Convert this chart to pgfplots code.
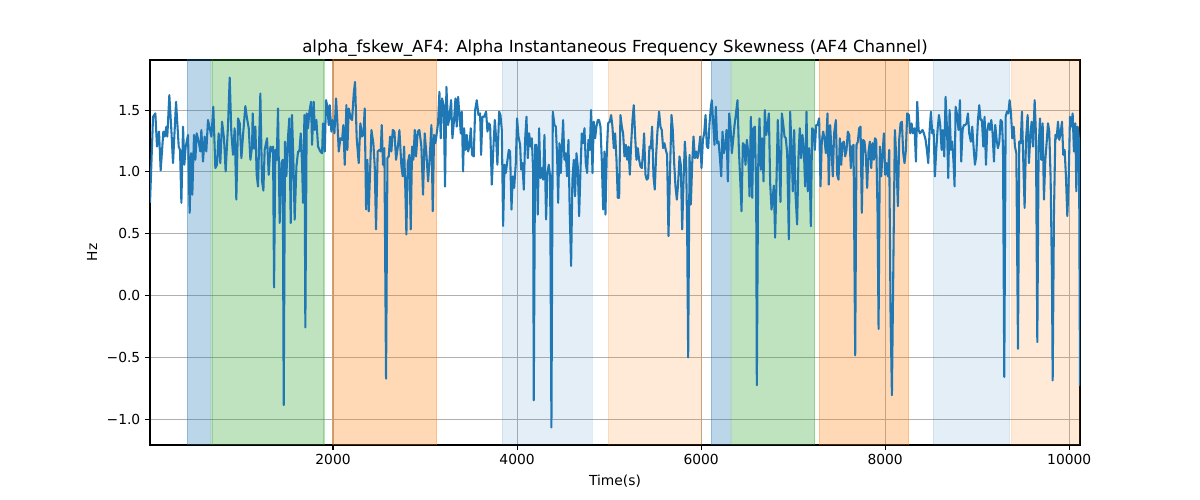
\documentclass[border=0pt]{standalone}
\usepackage{fontspec}
\setmainfont{DejaVu Sans}
\usepackage{pgfplots}
\pgfplotsset{compat=1.18}
\definecolor{tabblue}{RGB}{31,119,180}
\definecolor{tabgreen}{RGB}{44,160,44}
\definecolor{taborange}{RGB}{255,127,14}
\definecolor{gridgray}{RGB}{176,176,176}
\begin{document}
\begin{tikzpicture}
\path[use as bounding box] (-108.41pt,-39.75pt) rectangle (758.83pt,321.6pt);
\begin{axis}[
 scale only axis, width=672.11pt, height=278.24pt,
 at={(0pt,0pt)}, anchor=south west,
 xmin=11, xmax=10117, ymin=-1.208, ymax=1.905,
 scaled x ticks=false, scaled y ticks=false,
 xtick={2000,4000,6000,8000,10000}, xticklabels={2000,4000,6000,8000,10000},
 ytick={-1,-0.5,0,0.5,1,1.5}, yticklabels={−1.0,−0.5,0.0,0.5,1.0,1.5},
 grid=major, major grid style={gridgray, line width=0.8pt},
 tick align=outside, major tick length=3.5pt, tick style={black, line width=0.8pt},
 tick pos=left,
 axis line style={line width=0.8pt},
 ticklabel style={font=\fontsize{10}{12}\selectfont},
 xlabel={Time(s)}, ylabel={Hz}, label style={font=\fontsize{10}{12}\selectfont},
 title={alpha\_fskew\_AF4: Alpha Instantaneous Frequency Skewness (AF4 Channel)},
 title style={font=\fontsize{12}{14}\selectfont, yshift=-7pt},
 clip=true,
]
% shaded spans
\addplot[draw=tabblue, fill=tabblue, opacity=0.3, line width=0.8pt] coordinates {(415,-5)(668,-5)(668,5)(415,5)} \closedcycle;
\addplot[draw=tabgreen, fill=tabgreen, opacity=0.3, line width=0.8pt] coordinates {(685,-5)(1902,-5)(1902,5)(685,5)} \closedcycle;
\addplot[draw=taborange, fill=taborange, opacity=0.3, line width=0.8pt] coordinates {(2000,-5)(3127,-5)(3127,5)(2000,5)} \closedcycle;
\addplot[draw=tabblue, fill=tabblue, opacity=0.12, line width=0.8pt] coordinates {(3837,-5)(4815,-5)(4815,5)(3837,5)} \closedcycle;
\addplot[draw=taborange, fill=taborange, opacity=0.16, line width=0.8pt] coordinates {(4990,-5)(6008,-5)(6008,5)(4990,5)} \closedcycle;
\addplot[draw=tabblue, fill=tabblue, opacity=0.3, line width=0.8pt] coordinates {(6109,-5)(6316,-5)(6316,5)(6109,5)} \closedcycle;
\addplot[draw=tabgreen, fill=tabgreen, opacity=0.3, line width=0.8pt] coordinates {(6330,-5)(7235,-5)(7235,5)(6330,5)} \closedcycle;
\addplot[draw=taborange, fill=taborange, opacity=0.3, line width=0.8pt] coordinates {(7282,-5)(8257,-5)(8257,5)(7282,5)} \closedcycle;
\addplot[draw=tabblue, fill=tabblue, opacity=0.12, line width=0.8pt] coordinates {(8522,-5)(9352,-5)(9352,5)(8522,5)} \closedcycle;
\addplot[draw=taborange, fill=taborange, opacity=0.16, line width=0.8pt] coordinates {(9370,-5)(10130,-5)(10130,5)(9370,5)} \closedcycle;
% signal
\addplot[tabblue, line width=1.5pt, line join=round, mark=none] coordinates {
(11,0.75)(44,1.446)(69,1.473)(87,1.205)(109,1.326)(127,1.012)(156,1.326)(171,1.286)(189,1.366)(199,1.286)
(221,1.621)(243,1.339)(261,1.071)(294,1.567)(323,1.205)(337,1.178)(352,0.75)(370,1.366)(384,1.058)(399,1.205)
(424,1.299)(442,0.669)(457,1.151)(471,0.816)(489,1.299)(504,1.098)(518,1.312)(540,1.245)(558,1.165)(569,1.339)
(587,1.084)(605,1.286)(623,1.165)(641,1.420)(663,1.339)(678,1.286)(699,1.527)(721,1.031)(739,1.058)(757,1.312)
(775,1.071)(794,1.406)(815,1.272)(833,1.004)(859,1.379)(877,1.763)(895,1.312)(913,1.138)(931,1.353)(949,0.776)
(968,1.433)(986,1.393)(1004,1.111)(1022,1.299)(1047,1.532)(1065,1.433)(1084,1.353)(1102,1.098)(1120,1.205)
(1127,1.473)(1141,1.189)(1156,1.366)(1170,0.977)(1185,0.882)(1210,1.634)(1228,0.929)(1243,0.849)(1257,1.178)
(1283,1.272)(1301,0.977)(1319,1.205)(1337,1.165)(1348,1.205)(1359,0.066)(1373,1.178)(1388,1.098)(1402,1.513)
(1420,0.587)(1439,1.071)(1453,1.098)(1464,-0.886)(1478,1.245)(1493,0.966)(1511,1.286)(1525,1.433)(1540,0.587)
(1554,1.460)(1569,1.098)(1583,0.614)(1602,1.044)(1620,1.165)(1634,1.165)(1649,1.312)(1663,1.071)(1674,0.750)
(1689,1.460)(1699,-0.257)(1714,1.473)(1728,1.353)(1743,1.487)(1761,1.567)(1772,1.219)(1790,1.567)(1801,1.339)
(1819,1.420)(1837,1.205)(1862,1.165)(1881,1.151)(1891,1.393)(1910,1.165)(1924,1.581)(1938,1.527)(1953,1.379)
(1964,1.540)(1982,1.326)(1996,1.420)(2015,1.312)(2033,1.594)(2047,1.406)(2062,1.165)(2080,1.272)(2098,1.259)
(2112,1.379)(2127,1.058)(2145,1.540)(2156,1.178)(2170,1.513)(2192,1.433)(2207,1.420)(2225,1.634)(2239,1.728)
(2257,1.272)(2279,1.071)
(2297,1.393)(2315,1.286)(2330,1.299)(2344,1.513)(2359,0.696)(2373,1.098)(2388,0.682)(2402,0.991)(2417,1.339)
(2438,1.232)(2453,1.044)(2467,0.535)(2485,1.165)(2504,1.178)(2518,1.165)(2529,1.379)(2543,1.058)(2558,1.192)
(2576,-0.672)(2591,1.111)(2605,1.125)(2620,1.286)(2634,1.165)(2649,1.339)(2667,1.326)(2685,1.098)(2707,1.219)
(2721,1.339)(2743,1.044)(2757,0.964)(2772,1.205)(2786,0.843)(2797,0.494)(2812,1.071)(2830,1.138)(2844,0.535)
(2859,1.205)(2873,1.098)(2888,1.339)(2902,1.125)(2920,1.326)(2938,1.339)(2960,1.205)(2978,0.816)(2996,1.312)
(3014,1.151)(3033,0.923)(3051,1.125)(3069,1.379)(3083,0.682)(3098,1.299)(3112,1.232)(3127,1.312)(3141,1.393)
(3156,1.648)(3170,1.272)(3185,1.594)(3203,1.540)(3217,0.882)(3232,1.688)(3250,1.379)(3264,1.433)(3283,1.581)
(3297,1.272)(3315,1.420)(3330,1.594)(3344,1.366)(3359,1.607)
(3388,1.312)(3399,1.487)(3413,1.004)(3424,1.353)(3439,1.178)(3453,1.299)(3468,1.165)(3482,1.205)(3497,1.353)
(3511,1.138)(3529,1.125)(3544,1.500)(3562,1.580)(3580,1.460)(3598,1.473)(3609,1.138)(3623,1.446)(3642,1.446)
(3663,1.487)(3678,1.326)(3692,1.393)(3707,1.379)(3725,0.897)(3743,1.205)(3758,1.420)(3772,1.272)(3786,1.058)
(3805,1.487)(3819,1.460)(3834,1.339)(3848,0.563)(3863,1.058)(3877,0.991)(3891,1.071)(3910,1.178)(3924,1.165)
(3939,0.696)(3953,0.964)(3968,0.870)(3986,1.071)(4000,1.433)(4015,1.286)(4033,1.219)(4044,1.018)(4058,1.071)
(4073,0.856)(4087,1.259)(4102,1.446)(4116,1.111)(4131,1.312)(4145,1.205)(4160,1.272)(4174,1.018)(4181,-0.847)
(4196,1.219)(4210,1.219)(4225,0.655)(4239,1.353)(4254,0.950)(4268,1.031)(4283,0.937)(4297,1.299)(4315,0.615)
(4330,0.991)(4344,1.058)(4359,0.964)(4373,-1.066)(4388,1.487)(4406,1.379)(4421,1.366)(4435,1.125)(4446,0.750)
(4460,1.232)(4475,0.991)(4489,1.232)
(4500,1.420)(4514,1.098)(4529,1.151)(4543,0.964)(4558,1.259)(4572,0.669)(4587,0.24)(4601,0.937)(4616,1.098)
(4630,0.803)(4645,1.151)(4659,1.044)(4674,0.642)(4688,0.991)(4703,1.312)(4717,1.232)(4732,1.353)(4746,1.071)
(4761,0.991)(4775,1.259)(4790,1.178)(4804,1.500)(4819,0.991)(4833,1.406)(4848,1.272)(4862,1.366)(4877,1.420)
(4891,1.420)(4906,1.366)(4920,1.098)(4935,0.696)(4949,1.165)(4960,0.655)(4975,1.165)(4989,1.393)(5007,1.406)
(5022,1.460)(5036,1.366)(5051,1.192)(5065,1.312)(5080,1.098)(5094,0.790)(5109,0.790)(5123,1.460)(5138,1.366)
(5152,1.312)(5167,1.125)(5181,1.219)(5196,1.098)(5210,1.205)(5225,0.977)(5239,1.219)(5254,1.420)(5268,1.540)
(5283,1.286)(5297,1.098)(5312,1.192)(5326,1.098)(5341,1.044)(5355,1.031)(5370,1.165)(5380,1.312)(5395,0.977)
(5409,0.937)(5424,0.950)(5438,1.205)(5453,1.192)(5467,1.366)(5482,0.964)(5496,0.857)(5511,1.138)(5525,1.326)
(5543,1.487)(5558,1.366)(5572,1.339)(5587,1.192)(5601,1.232)(5616,1.178)(5630,1.138)(5645,0.481)
(5663,1.044)(5678,1.460)(5692,1.339)(5707,1.071)(5721,0.882)(5736,0.776)(5750,0.910)(5765,1.125)(5779,1.058)
(5794,0.535)(5808,0.910)(5823,1.245)(5837,1.071)(5848,0.535)(5859,-0.50)(5874,1.138)(5888,0.736)(5903,1.071)
(5917,1.286)(5932,1.111)(5946,1.165)(5961,1.111)(5975,1.178)(5990,1.286)(6004,1.031)(6019,1.259)(6033,1.312)
(6048,1.460)(6062,1.205)(6077,1.192)(6091,1.393)(6106,1.527)(6116,1.580)(6131,1.393)(6145,1.219)(6160,1.527)
(6174,1.232)(6189,1.245)(6203,1.125)(6218,0.964)(6232,1.326)(6247,1.151)(6261,1.205)(6276,1.339)(6290,0.923)
(6305,1.473)(6319,1.366)(6334,1.151)(6348,1.259)(6363,1.379)(6381,1.487)(6395,1.580)(6410,1.178)(6424,0.950)
(6439,0.682)(6453,1.232)(6468,1.219)(6482,1.058)(6497,1.259)(6511,1.165)(6526,0.803)(6540,1.446)(6555,0.790)
(6569,1.353)(6584,1.366)(6598,0.857)(6605,-0.725)(6620,1.044)(6634,1.433)(6649,1.017)(6663,1.272)(6678,0.923)
(6692,1.500)(6707,1.299)(6721,1.366)(6736,1.473)(6750,0.910)(6765,0.696)
(6790,0.889)(6804,0.468)(6819,0.937)(6833,1.420)(6848,1.098)(6862,0.757)(6877,1.473)(6891,1.393)(6906,1.286)
(6920,1.272)(6935,1.151)(6953,0.455)(6967,1.487)(6982,1.205)(6996,0.843)(7011,1.339)(7025,0.829)(7043,0.575)
(7058,1.125)(7072,1.353)(7087,1.111)(7101,1.299)(7116,1.178)(7130,0.883)(7145,1.487)(7159,0.843)(7174,1.192)
(7192,0.561)(7206,1.353)(7221,1.339)(7235,1.178)(7250,1.379)(7264,1.379)(7282,1.433)(7297,0.883)(7311,1.245)
(7326,1.326)(7340,1.272)(7355,1.151)(7373,1.473)(7387,0.897)(7402,1.379)(7417,1.165)(7431,0.964)(7445,1.312)
(7464,1.420)(7478,0.977)(7493,0.937)(7507,1.272)(7522,1.058)(7536,1.232)(7551,1.245)(7565,1.125)(7580,1.178)
(7594,1.326)(7609,1.299)(7627,1.031)(7641,1.205)(7656,1.219)(7674,-0.483)(7688,1.219)(7703,1.245)(7717,1.353)
(7732,1.366)(7746,0.669)(7761,1.259)(7775,1.245)(7790,1.125)(7804,0.870)(7819,1.165)(7833,1.245)(7848,1.031)
(7862,1.232)(7877,1.098)
(7888,1.272)(7902,1.259)(7917,0.669)(7928,-0.27)(7942,1.205)(7957,0.964)(7971,1.151)(7986,1.312)(8000,0.977)
(8015,1.071)(8029,0.964)(8044,1.178)(8058,-0.135)(8073,-0.806)(8087,0.132)(8105,1.339)(8120,1.125)(8138,0.723)
(8152,1.259)(8167,1.393)(8181,1.406)(8196,1.151)(8210,1.071)(8225,1.178)(8239,1.473)(8257,1.460)(8272,1.312)
(8287,1.393)(8301,1.312)(8319,1.353)(8334,1.084)(8348,1.567)(8363,1.339)(8377,1.312)(8392,1.326)(8406,1.339)
(8421,1.312)(8439,1.259)(8453,1.178)(8468,1.071)(8482,1.326)(8497,1.487)(8511,1.312)(8526,1.339)(8540,0.964)
(8555,1.178)(8569,1.339)(8584,1.460)(8598,1.379)(8613,1.178)(8627,1.339)(8642,1.125)(8656,1.607)(8671,1.366)
(8685,0.950)(8700,1.500)(8714,1.178)(8729,1.245)(8743,1.071)(8754,0.883)(8765,1.527)(8779,1.473)(8797,1.339)
(8812,1.580)(8826,1.084)(8841,1.339)(8855,1.379)(8870,1.379)(8884,1.393)(8899,1.473)(8913,1.312)(8931,1.245)
(8946,1.366)(8960,1.205)(8975,1.058)(8989,1.125)
(9008,1.420)(9022,1.540)(9037,1.420)(9051,1.420)(9066,1.205)(9080,1.446)(9095,1.058)(9109,1.339)(9124,1.393)
(9138,1.339)(9153,1.420)(9167,1.312)(9182,1.084)(9196,1.379)(9211,1.259)(9225,1.192)(9240,1.245)(9254,1.420)
(9269,1.406)(9280,1.205)(9294,-0.658)(9309,1.447)(9323,1.487)(9338,1.473)(9352,1.580)(9367,1.473)(9381,1.272)
(9396,1.366)(9410,1.205)(9425,1.151)(9443,-0.43)(9457,1.245)(9472,1.232)(9486,1.487)(9501,1.071)(9515,0.709)
(9530,1.259)(9548,1.460)(9562,1.071)(9577,1.286)(9591,1.406)(9606,1.205)(9624,1.580)(9638,1.312)(9653,-0.376)
(9667,1.178)(9682,1.433)(9696,1.098)(9711,1.393)(9725,0.776)(9740,1.098)(9754,1.232)(9769,1.393)(9783,1.326)
(9798,0.937)(9812,0.151)(9820,-0.686)(9834,0.669)(9849,1.299)(9863,1.272)(9878,1.406)(9892,1.259)(9906,1.312)
(9921,1.406)(9935,1.138)(9950,1.178)(9964,0.964)(9979,0.643)(9993,0.910)(10008,1.446)(10022,1.366)(10037,1.473)
(10051,1.165)(10066,1.393)(10077,0.843)(10091,1.366)(10106,1.259)(10117,-0.73)
};
\end{axis}
\end{tikzpicture}
\end{document}
